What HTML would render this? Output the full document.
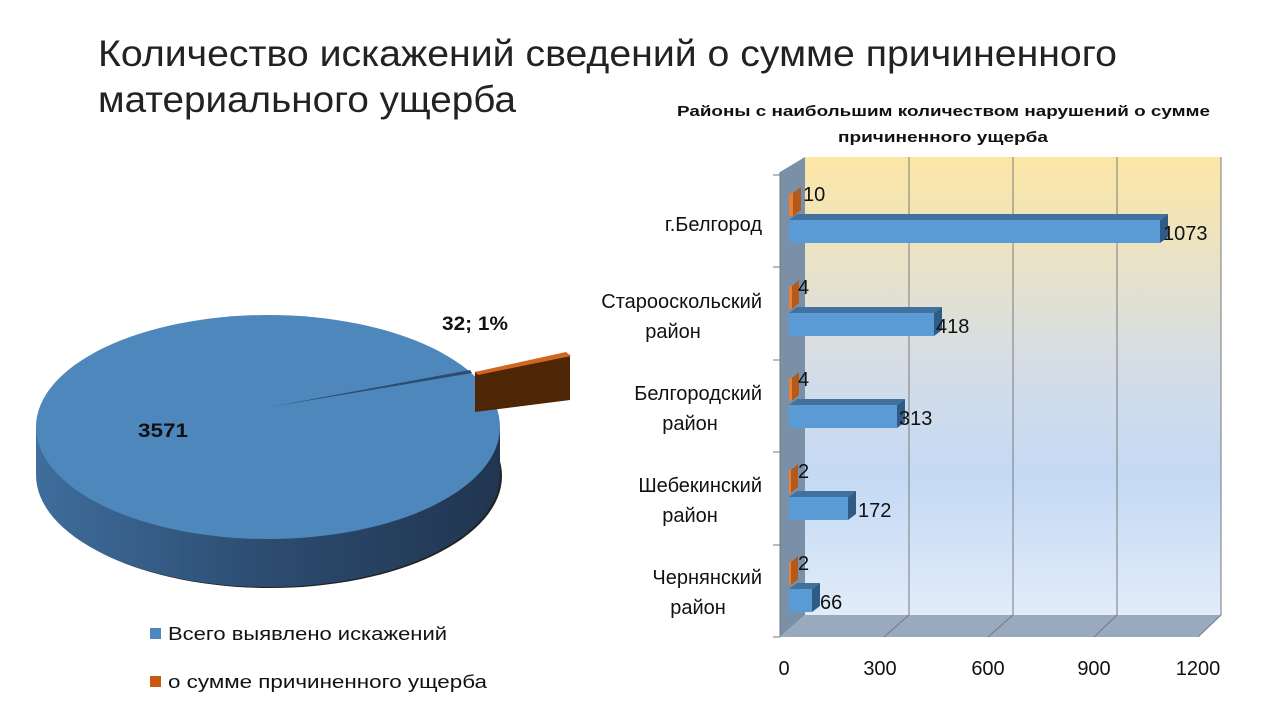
<!DOCTYPE html>
<html><head><meta charset="utf-8"><style>
body{margin:0;width:1280px;height:720px;background:#fff;overflow:hidden;font-family:"Liberation Sans",sans-serif}
</style></head><body>
<svg width="1280" height="720" xmlns="http://www.w3.org/2000/svg" font-family="Liberation Sans, sans-serif">
<defs>
<linearGradient id="bg" x1="0" y1="0" x2="0" y2="1">
<stop offset="0" stop-color="#fde7a6"/><stop offset="0.45" stop-color="#d5dde6"/><stop offset="0.7" stop-color="#c4d9f4"/><stop offset="1" stop-color="#e2ecf9"/></linearGradient>
<linearGradient id="side" x1="0" y1="0" x2="1" y2="0">
<stop offset="0" stop-color="#3f6d9c"/><stop offset="0.5" stop-color="#2c4c70"/><stop offset="1" stop-color="#203550"/></linearGradient>
</defs>
<text x="98" y="66" font-size="37" fill="#222" textLength="1019" lengthAdjust="spacingAndGlyphs">Количество искажений сведений о сумме причиненного</text>
<text x="98" y="112" font-size="37" fill="#222" textLength="418" lengthAdjust="spacingAndGlyphs">материального ущерба</text>
<text x="677" y="116" font-size="15" font-weight="bold" fill="#111" textLength="533" lengthAdjust="spacingAndGlyphs">Районы с наибольшим количеством нарушений  о сумме</text>
<text x="838" y="142" font-size="15" font-weight="bold" fill="#111" textLength="210" lengthAdjust="spacingAndGlyphs">причиненного  ущерба</text>
<!-- pie -->
<ellipse cx="270" cy="476" rx="232" ry="112" fill="#222"/>
<path d="M36 427 L36 475 A232 112 0 0 0 500 475 L500 427 Z" fill="url(#side)"/>
<ellipse cx="268" cy="427" rx="232" ry="112" fill="#4d87bb"/>
<path d="M270 407 L470 370 L472 373 Z" fill="#2c4c70"/>
<path d="M475 372 L570 356 L570 400 L475 412 Z" fill="#4e2505"/>
<path d="M475 372 L566 352 L571 356 L478 375 Z" fill="#d0661f"/>
<text x="138" y="437" font-size="19" font-weight="bold" fill="#111" textLength="50" lengthAdjust="spacingAndGlyphs">3571</text>
<text x="442" y="330" font-size="19" font-weight="bold" fill="#111" textLength="66" lengthAdjust="spacingAndGlyphs">32; 1%</text>
<rect x="150" y="628" width="11" height="11" fill="#4d87bb"/>
<text x="168" y="640" font-size="18" fill="#111" textLength="279" lengthAdjust="spacingAndGlyphs">Всего выявлено искажений</text>
<rect x="150" y="676" width="11" height="11" fill="#c55a11"/>
<text x="168" y="688" font-size="18" fill="#111" textLength="319" lengthAdjust="spacingAndGlyphs">о сумме причиненного ущерба</text>
<!-- bar chart -->
<rect x="805" y="157" width="416" height="458" fill="url(#bg)"/>
<polygon points="780,172 805,157 805,615 780,637" fill="#7a8fa8"/>
<polygon points="780,637 805,615 1221,615 1198,637" fill="#99a9be"/>
<g stroke="#7a7a7a" stroke-width="1">
<line x1="909" y1="157" x2="909" y2="615"/><line x1="1013" y1="157" x2="1013" y2="615"/><line x1="1117" y1="157" x2="1117" y2="615"/><line x1="1221" y1="157" x2="1221" y2="615"/>
<line x1="884" y1="637" x2="909" y2="615"/><line x1="988" y1="637" x2="1013" y2="615"/><line x1="1094" y1="637" x2="1117" y2="615"/><line x1="1198" y1="637" x2="1221" y2="615"/>
<line x1="780" y1="172" x2="780" y2="637"/>
<line x1="773" y1="175" x2="780" y2="175"/><line x1="773" y1="267" x2="780" y2="267"/><line x1="773" y1="360" x2="780" y2="360"/><line x1="773" y1="452" x2="780" y2="452"/><line x1="773" y1="545" x2="780" y2="545"/><line x1="773" y1="637" x2="780" y2="637"/>
</g>
<g font-size="20" fill="#111">
<text x="784" y="675" text-anchor="middle">0</text><text x="880" y="675" text-anchor="middle">300</text><text x="988" y="675" text-anchor="middle">600</text><text x="1094" y="675" text-anchor="middle">900</text><text x="1198" y="675" text-anchor="middle">1200</text>
<text x="762" y="231" text-anchor="end">г.Белгород</text>
<text x="762" y="308" text-anchor="end">Старооскольский</text><text x="673" y="338" text-anchor="middle">район</text>
<text x="762" y="400" text-anchor="end">Белгородский</text><text x="690" y="430" text-anchor="middle">район</text>
<text x="762" y="492" text-anchor="end">Шебекинский</text><text x="690" y="522" text-anchor="middle">район</text>
<text x="762" y="584" text-anchor="end">Чернянский</text><text x="698" y="614" text-anchor="middle">район</text>
</g>
<g font-size="20" fill="#111">
<g>
<polygon points="789,220 797,214 1168,214 1160,220" fill="#41719c"/><polygon points="1160,220 1168,214 1168,237 1160,243" fill="#2f5c87"/><rect x="789" y="220" width="371" height="23" fill="#5b9bd5"/>
<rect x="789" y="193" width="4" height="23" fill="#ed7d31"/><polygon points="793,193 801,187 801,210 793,216" fill="#b35a1a"/>
<text x="803" y="201">10</text><text x="1163" y="240">1073</text></g>
<g transform="translate(0,93)">
<polygon points="789,220 797,214 942,214 934,220" fill="#41719c"/><polygon points="934,220 942,214 942,237 934,243" fill="#2f5c87"/><rect x="789" y="220" width="145" height="23" fill="#5b9bd5"/>
<rect x="789" y="193" width="3" height="23" fill="#ed7d31"/><polygon points="792,193 799,187 799,210 792,216" fill="#b35a1a"/>
<text x="798" y="201">4</text><text x="936" y="240">418</text></g>
<g transform="translate(0,185)">
<polygon points="789,220 797,214 905,214 897,220" fill="#41719c"/><polygon points="897,220 905,214 905,237 897,243" fill="#2f5c87"/><rect x="789" y="220" width="108" height="23" fill="#5b9bd5"/>
<rect x="789" y="193" width="3" height="23" fill="#ed7d31"/><polygon points="792,193 799,187 799,210 792,216" fill="#b35a1a"/>
<text x="798" y="201">4</text><text x="899" y="240">313</text></g>
<g transform="translate(0,277)">
<polygon points="789,220 797,214 856,214 848,220" fill="#41719c"/><polygon points="848,220 856,214 856,237 848,243" fill="#2f5c87"/><rect x="789" y="220" width="59" height="23" fill="#5b9bd5"/>
<rect x="789" y="193" width="2" height="23" fill="#ed7d31"/><polygon points="791,193 798,187 798,210 791,216" fill="#b35a1a"/>
<text x="798" y="201">2</text><text x="858" y="240">172</text></g>
<g transform="translate(0,369)">
<polygon points="789,220 797,214 820,214 812,220" fill="#41719c"/><polygon points="812,220 820,214 820,237 812,243" fill="#2f5c87"/><rect x="789" y="220" width="23" height="23" fill="#5b9bd5"/>
<rect x="789" y="193" width="2" height="23" fill="#ed7d31"/><polygon points="791,193 798,187 798,210 791,216" fill="#b35a1a"/>
<text x="798" y="201">2</text><text x="820" y="240">66</text></g>
</g>
</svg>
</body></html>
